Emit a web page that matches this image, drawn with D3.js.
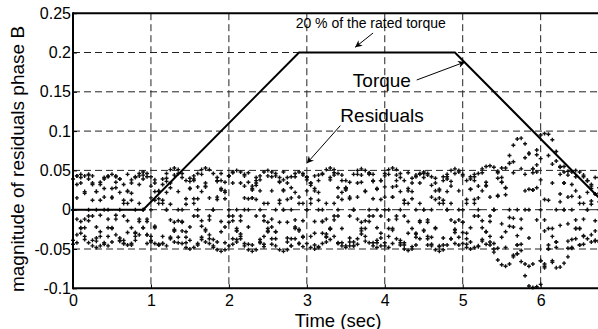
<!DOCTYPE html>
<html>
<head>
<meta charset="utf-8">
<script src="https://cdn.jsdelivr.net/npm/d3@7"></script>
<style>
body { margin: 0; background: #fff; }
svg { display: block; font-family: "Liberation Sans", Arial, sans-serif; }
</style>
</head>
<body>
<svg id="chart" width="598" height="329"></svg>
<script>
// residual samples, one value per strand every sampleStep seconds
var sampleStep = 0.05;
var residualA = [
	.039,.043,.045,.043,.039,.032,.023,.012,0,-.012,-.023,-.032,-.039,-.043,-.045,-.043,-.039,-.032,-.023,-.012,0,.012,.023,.032,
	.046,.051,.053,.051,.046,.037,.027,.014,0,-.014,-.027,-.037,-.046,-.051,-.053,-.051,-.046,-.037,-.027,-.014,0,.014,.027,.037,
	.043,.048,.050,.048,.043,.035,.025,.013,0,-.013,-.025,-.035,-.043,-.048,-.050,-.048,-.043,-.035,-.025,-.013,0,.013,.025,.035,
	.045,.050,.052,.050,.045,.037,.026,.013,0,-.013,-.026,-.037,-.045,-.050,-.052,-.050,-.045,-.037,-.026,-.013,0,.013,.026,.037,
	.045,.050,.052,.050,.045,.037,.026,.013,
	0,-.014,-.028,-.041,-.054,-.064,-.070,-.072,-.069,-.060,-.045,-.024,0,.026,.052,.076,.095,.097,.096,.089,.074,.054,.034,.016,0,-.013,-.024,-.033,-.037,-.041,-.040,-.039
];
var residualB = [
	0,-.012,-.024,-.034,-.042,-.046,-.048,-.046,-.042,-.034,-.024,-.012,0,.012,.024,.034,.042,.046,.048,.046,.042,.034,.024,.012,
	0,-.013,-.025,-.035,-.043,-.048,-.050,-.048,-.043,-.035,-.025,-.013,0,.013,.025,.035,.043,.048,.050,.048,.043,.035,.025,.013,
	0,-.014,-.027,-.037,-.046,-.051,-.053,-.051,-.046,-.037,-.027,-.014,0,.014,.027,.037,.046,.051,.053,.051,.046,.037,.027,.014,
	0,-.012,-.024,-.034,-.042,-.046,-.048,-.046,-.042,-.034,-.024,-.012,0,.012,.024,.034,.042,.046,.048,.046,.042,.034,.024,.012,
	0,-.013,-.025,-.035,-.043,-.048,-.050,-.048,
	-.046,-.038,-.028,-.015,0,.017,.035,.053,.069,.082,.090,.091,.084,.071,.052,.028,0,-.027,-.050,-.065,-.074,-.073,-.068,-.060,-.048,-.037,-.024,-.012,0,.011,.020,.028
];
var residualC = [
	-.039,-.032,-.023,-.012,0,.012,.023,.032,.039,.043,.045,.043,.039,.032,.023,.012,0,-.012,-.023,-.032,-.039,-.043,-.045,-.043,
	-.046,-.037,-.027,-.014,0,.014,.027,.037,.046,.051,.053,.051,.046,.037,.027,.014,0,-.014,-.027,-.037,-.046,-.051,-.053,-.051,
	-.042,-.034,-.024,-.012,0,.012,.024,.034,.042,.046,.048,.046,.042,.034,.024,.012,0,-.012,-.024,-.034,-.042,-.046,-.048,-.046,
	-.046,-.037,-.027,-.014,0,.014,.027,.037,.046,.051,.053,.051,.046,.037,.027,.014,0,-.014,-.027,-.037,-.046,-.051,-.053,-.051,
	-.045,-.037,-.026,-.013,0,.013,.026,.037,
	.046,.052,.055,.056,.054,.047,.035,.019,0,-.022,-.045,-.066,-.084,-.097,-.099,-.098,-.095,-.074,-.050,-.024,0,.020,.034,.044,.048,.050,.048,.044,.037,.030,.020,.010
];
var residualD = [
	0,.032,.041,.021,-.014,-.039,-.036,-.007,.027,.042,.027,-.007,-.036,-.039,-.014,.021,.041,.032,0,-.032,-.041,-.021,.014,.039,.036,.007,-.027,-.042,-.027,.007,.036,.039,.014,-.021,-.041,-.032,
	0,.036,.046,.024,-.016,-.044,-.041,-.008,.030,.047,.030,-.008,-.041,-.044,-.016,.024,.046,.036,0,-.036,-.046,-.024,.016,.044,.041,.008,-.030,-.047,-.030,.008,.041,.044,.016,-.024,-.046,-.036,
	0,.034,.044,.023,-.015,-.042,-.039,-.008,.029,.045,.029,-.008,-.039,-.042,-.015,.023,.044,.034,0,-.034,-.044,-.023,.015,.042,.039,.008,-.029,-.045,-.029,.008,.039,.042,.015,-.023,-.044,-.034,
	0,.040,.053,.028,-.021,-.058,-.056,-.012,.045,.072,.047,-.013,-.065,-.069,-.024,.034,.062,.045,0,-.040,-.049,-.024,.016,.042,.037,.007,-.027,-.041
];
var residualE = [
	-.039,-.042,-.015,.023,.044,.034,0,-.034,-.044,-.023,.015,.042,.039,.008,-.029,-.045,-.029,.008,.039,.042,.015,-.023,-.044,-.034,0,.034,.044,.023,-.015,-.042,-.039,-.008,.029,.045,.029,-.008,
	-.038,-.041,-.015,.022,.043,.034,0,-.034,-.043,-.022,.015,.041,.038,.008,-.028,-.044,-.028,.008,.038,.041,.015,-.022,-.043,-.034,0,.034,.043,.022,-.015,-.041,-.038,-.008,.028,.044,.028,-.008,
	-.041,-.044,-.016,.024,.046,.036,0,-.036,-.046,-.024,.016,.044,.041,.008,-.030,-.047,-.030,.008,.041,.044,.016,-.024,-.046,-.036,0,.036,.046,.024,-.016,-.044,-.041,-.008,.030,.047,.030,-.008,
	-.043,-.049,-.018,.028,.059,.047,0,-.052,-.069,-.036,.025,.070,.065,.013,-.045,-.067,-.041,.010,.048,.049,.017,-.024,-.045,-.034,0,.032,.041,.021
];
var residualF = [
	0,.043,-.030,-.023,.045,-.008,-.040,.035,.016,-.046,.016,.035,-.040,-.008,.045,-.023,-.030,.043,0,-.043,.030,.023,-.045,.008,.040,-.035,-.016,.046,-.016,-.035,.040,.008,-.045,.023,.030,-.043,
	0,.041,-.028,-.022,.043,-.008,-.038,.034,.015,-.044,.015,.034,-.038,-.008,.043,-.022,-.028,.041,0,-.041,.028,.022,-.043,.008,.038,-.034,-.015,.044,-.015,-.034,.038,.008,-.043,.022,.028,-.041,
	0,.045,-.031,-.024,.047,-.008,-.042,.037,.016,-.048,.016,.037,-.042,-.008,.047,-.024,-.031,.045,0,-.045,.031,.024,-.047,.008,.042,-.037,-.016,.048,-.016,-.037,.042,.008,-.047,.024,.031,-.045,
	0,.049,-.035,-.028,.059,-.011,-.056,.052,.024,-.072,.025,.057,-.065,-.013,.069,-.034,-.041,.055,0,-.049,.032,.024,-.045,.008,.037,-.032,-.014,.041
];
var residualG = [
	-.044,.015,.034,-.038,-.008,.043,-.022,-.028,.041,0,-.041,.028,.022,-.043,.008,.038,-.034,-.015,.044,-.015,-.034,.038,.008,-.043,.022,.028,-.041,0,.041,-.028,-.022,.043,-.008,-.038,.034,.015,
	-.048,.016,.037,-.042,-.008,.047,-.024,-.031,.045,0,-.045,.031,.024,-.047,.008,.042,-.037,-.016,.048,-.016,-.037,.042,.008,-.047,.024,.031,-.045,0,.045,-.031,-.024,.047,-.008,-.042,.037,.016,
	-.046,.016,.035,-.040,-.008,.045,-.023,-.030,.043,0,-.043,.030,.023,-.045,.008,.040,-.035,-.016,.046,-.016,-.035,.040,.008,-.045,.023,.030,-.043,0,.043,-.030,-.023,.045,-.008,-.040,.035,.016,
	-.050,.018,.041,-.048,-.010,.061,-.033,-.044,.066,0,-.069,.048,.038,-.072,.012,.058,-.048,-.020,.055,-.018,-.038,.042,.008,-.044,.022,.027,-.039,0
];

var torqueTime = [0, 0.9, 2.9, 4.9, 6.9];
var torqueValue = [0, 0, 0.2, 0.2, 0];

var xTicks = [0, 1, 2, 3, 4, 5, 6];
var yTicks = [-0.1, -0.05, 0, 0.05, 0.1, 0.15, 0.2, 0.25];
var yTickLabels = ["-0.1", "-0.05", "0", "0.05", "0.1", "0.15", "0.2", "0.25"];

var W = 598, H = 329;
var svg = d3.select("#chart");

var x = d3.scaleLinear().domain([0, 7]).range([73, 618.6]);
var y = d3.scaleLinear().domain([-0.1, 0.25]).range([288.3, 13.2]);

// grid
var grid = svg.append("g")
	.attr("stroke", "#222")
	.attr("stroke-width", 1)
	.attr("stroke-dasharray", "7,4");

grid.selectAll("line.vx")
	.data(xTicks.slice(1))
	.enter().append("line")
	.attr("x1", d => x(d)).attr("x2", d => x(d))
	.attr("y1", y(0.25)).attr("y2", y(-0.1));

grid.selectAll("line.hy")
	.data(yTicks.slice(1, -1))
	.enter().append("line")
	.attr("x1", x(0)).attr("x2", W)
	.attr("y1", d => y(d)).attr("y2", d => y(d));

// residual points as small plus marks
var points = [];
[residualA, residualB, residualC, residualD, residualE, residualF, residualG].forEach(function(strand) {
	strand.forEach(function(v, i) { points.push({ t: i * sampleStep, v: v }); });
});

svg.append("g")
	.selectAll("path")
	.data(points)
	.enter().append("path")
	.attr("transform", d => "translate(" + x(d.t) + "," + y(d.v) + ")")
	.attr("d", "M-2,0H2M0,-2V2")
	.attr("stroke", "#111")
	.attr("stroke-width", 1.4)
	.attr("fill", "none");

// torque line
var line = d3.line()
	.x((d, i) => x(torqueTime[i]))
	.y(d => y(d));

svg.append("path")
	.datum(torqueValue)
	.attr("d", line)
	.attr("fill", "none")
	.attr("stroke", "#000")
	.attr("stroke-width", 2);

// frame
var frame = svg.append("g").attr("stroke", "#000").attr("stroke-width", 2);
frame.append("line").attr("x1", x(0)).attr("x2", W).attr("y1", y(0.25)).attr("y2", y(0.25));
frame.append("line").attr("x1", x(0)).attr("x2", W).attr("y1", y(-0.1)).attr("y2", y(-0.1));
frame.append("line").attr("x1", x(0)).attr("x2", x(0)).attr("y1", y(0.25) - 1).attr("y2", y(-0.1) + 1);

// axes
var xAxis = d3.axisBottom(x).tickValues(xTicks).tickFormat(d3.format("d")).tickSize(-4).tickPadding(6);
var yAxis = d3.axisLeft(y).tickValues(yTicks).tickFormat((d, i) => yTickLabels[i]).tickSize(-4).tickPadding(2);

var gx = svg.append("g").attr("transform", "translate(0," + y(-0.1) + ")").call(xAxis);
var gy = svg.append("g").attr("transform", "translate(" + x(0) + ",0)").call(yAxis);
[gx, gy].forEach(function(g) {
	g.select(".domain").remove();
	g.selectAll("text").attr("font-size", 16).attr("fill", "#000").attr("font-family", "Liberation Sans, Arial, sans-serif");
	g.selectAll(".tick line").attr("stroke", "#000");
});

svg.append("text")
	.attr("x", 338).attr("y", 326.5)
	.attr("text-anchor", "middle")
	.attr("font-size", 18.5)
	.text("Time (sec)");

svg.append("text")
	.attr("transform", "translate(24,159) rotate(-90)")
	.attr("text-anchor", "middle")
	.attr("font-size", 19)
	.text("magnitude of residuals phase B");

// annotations
svg.append("defs").append("marker")
	.attr("id", "head")
	.attr("viewBox", "0 0 10 10")
	.attr("refX", 10).attr("refY", 5)
	.attr("markerWidth", 11).attr("markerHeight", 7)
	.attr("markerUnits", "userSpaceOnUse")
	.attr("orient", "auto")
	.append("path")
	.attr("d", "M0,0L10,5L0,10L3,5Z")
	.attr("fill", "#000");

function arrow(t1, v1, t2, v2) {
	svg.append("line")
		.attr("x1", x(t1)).attr("y1", y(v1))
		.attr("x2", x(t2)).attr("y2", y(v2))
		.attr("stroke", "#000").attr("stroke-width", 1)
		.attr("marker-end", "url(#head)");
}

svg.append("text")
	.attr("x", x(3.82)).attr("y", y(0.231))
	.attr("text-anchor", "middle")
	.attr("font-size", 14)
	.text("20 % of the rated torque");
arrow(3.85, 0.2248, 3.62, 0.2066);

svg.append("text")
	.attr("x", x(3.59)).attr("y", y(0.156))
	.attr("font-size", 19)
	.text("Torque");
arrow(4.41, 0.165, 5.03, 0.188);

svg.append("text")
	.attr("x", x(3.43)).attr("y", y(0.112))
	.attr("font-size", 19)
	.text("Residuals");
arrow(3.43, 0.107, 3.0, 0.059);
</script>
</body>
</html>
